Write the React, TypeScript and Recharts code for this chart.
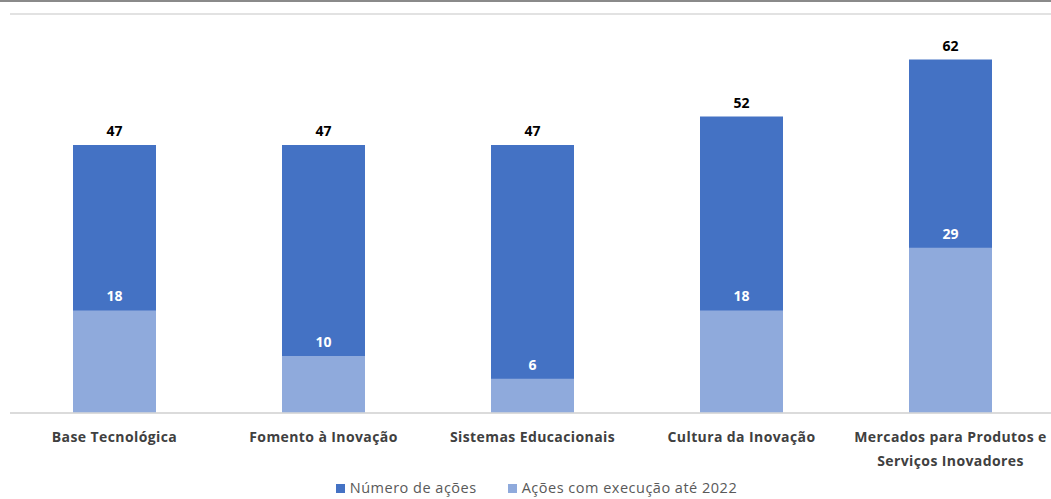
import React from "react";
import {
  BarChart,
  Bar,
  XAxis,
  YAxis,
  CartesianGrid,
  Legend,
  LabelList,
  Text,
} from "recharts";

const categories = [
  "Base Tecnológica",
  "Fomento à Inovação",
  "Sistemas Educacionais",
  "Cultura da Inovação",
  "Mercados para Produtos e Serviços Inovadores",
];
const totalActions = [47, 47, 47, 52, 62];
const executedActions = [18, 10, 6, 18, 29];
const yTicks = [0, 10, 20, 30, 40, 50, 60, 70];
const seriesNames = ["Número de ações", "Ações com execução até 2022"];
const seriesColors = ["#4472C4", "#8FAADC"];

const data = categories.map((name, i) => ({
  name,
  total: totalActions[i],
  executed: executedActions[i],
}));

const FONT = "'Open Sans', Lato, sans-serif";

const CategoryTick = (props: any) => {
  const { x, y, payload } = props;
  return (
    <Text
      x={x}
      y={y + 11}
      width={225}
      textAnchor="middle"
      verticalAnchor="start"
      lineHeight={24}
      style={{ fontFamily: FONT, fontSize: 14, fontWeight: 700, letterSpacing: 0.4 }}
      fill="#404040"
    >
      {payload.value}
    </Text>
  );
};

// keep legend in series order (recharts sorts by name otherwise)
const LegendContent = () => (
  <div style={{ display: "flex", justifyContent: "center", alignItems: "center", fontFamily: FONT, fontSize: 14.5, lineHeight: "18px", letterSpacing: 0.5, color: "#595959", marginLeft: 8 }}>
    {seriesNames.map((n, i) => (
      <span key={n} style={{ display: "flex", alignItems: "center", marginRight: i === 0 ? 31 : 0 }}>
        <span style={{ display: "inline-block", width: 9, height: 9, background: seriesColors[i], marginRight: 5 }} />
        {n}
      </span>
    ))}
  </div>
);

export default function App() {
  return (
    <div style={{ position: "absolute", left: 0, top: 0, width: 1051, height: 499, overflow: "hidden", background: "#fff" }}>
      <div style={{ position: "absolute", left: 0, top: 0, width: 1051, height: 2, background: "#8a8a8a" }} />
      <BarChart
        width={1051}
        height={499}
        data={data}
        margin={{ top: 14, right: -4, bottom: 0, left: 10 }}
        barGap={-83}
      >
        <CartesianGrid horizontal vertical={false} stroke="#d9d9d9" strokeWidth={1.5} />
        <XAxis
          dataKey="name"
          interval={0}
          height={66}
          axisLine={{ stroke: "#d9d9d9", strokeWidth: 1.5 }}
          tickLine={false}
          tick={<CategoryTick />}
        />
        <YAxis
          width={0}
          domain={[0, 70]}
          ticks={yTicks}
          axisLine={false}
          tickLine={false}
          tick={false}
        />
        <Legend verticalAlign="bottom" height={20} content={<LegendContent />} />
        <Bar dataKey="total" name={seriesNames[0]} fill={seriesColors[0]} barSize={83} isAnimationActive={false}>
          <LabelList
            dataKey="total"
            position="top"
            offset={9}
            style={{ fontFamily: FONT, fontSize: 14, fontWeight: 700, fill: "#000" }}
          />
        </Bar>
        <Bar dataKey="executed" name={seriesNames[1]} fill={seriesColors[1]} barSize={83} isAnimationActive={false}>
          <LabelList
            dataKey="executed"
            position="top"
            offset={9}
            style={{ fontFamily: FONT, fontSize: 14, fontWeight: 700, fill: "#fff" }}
          />
        </Bar>
      </BarChart>
    </div>
  );
}
